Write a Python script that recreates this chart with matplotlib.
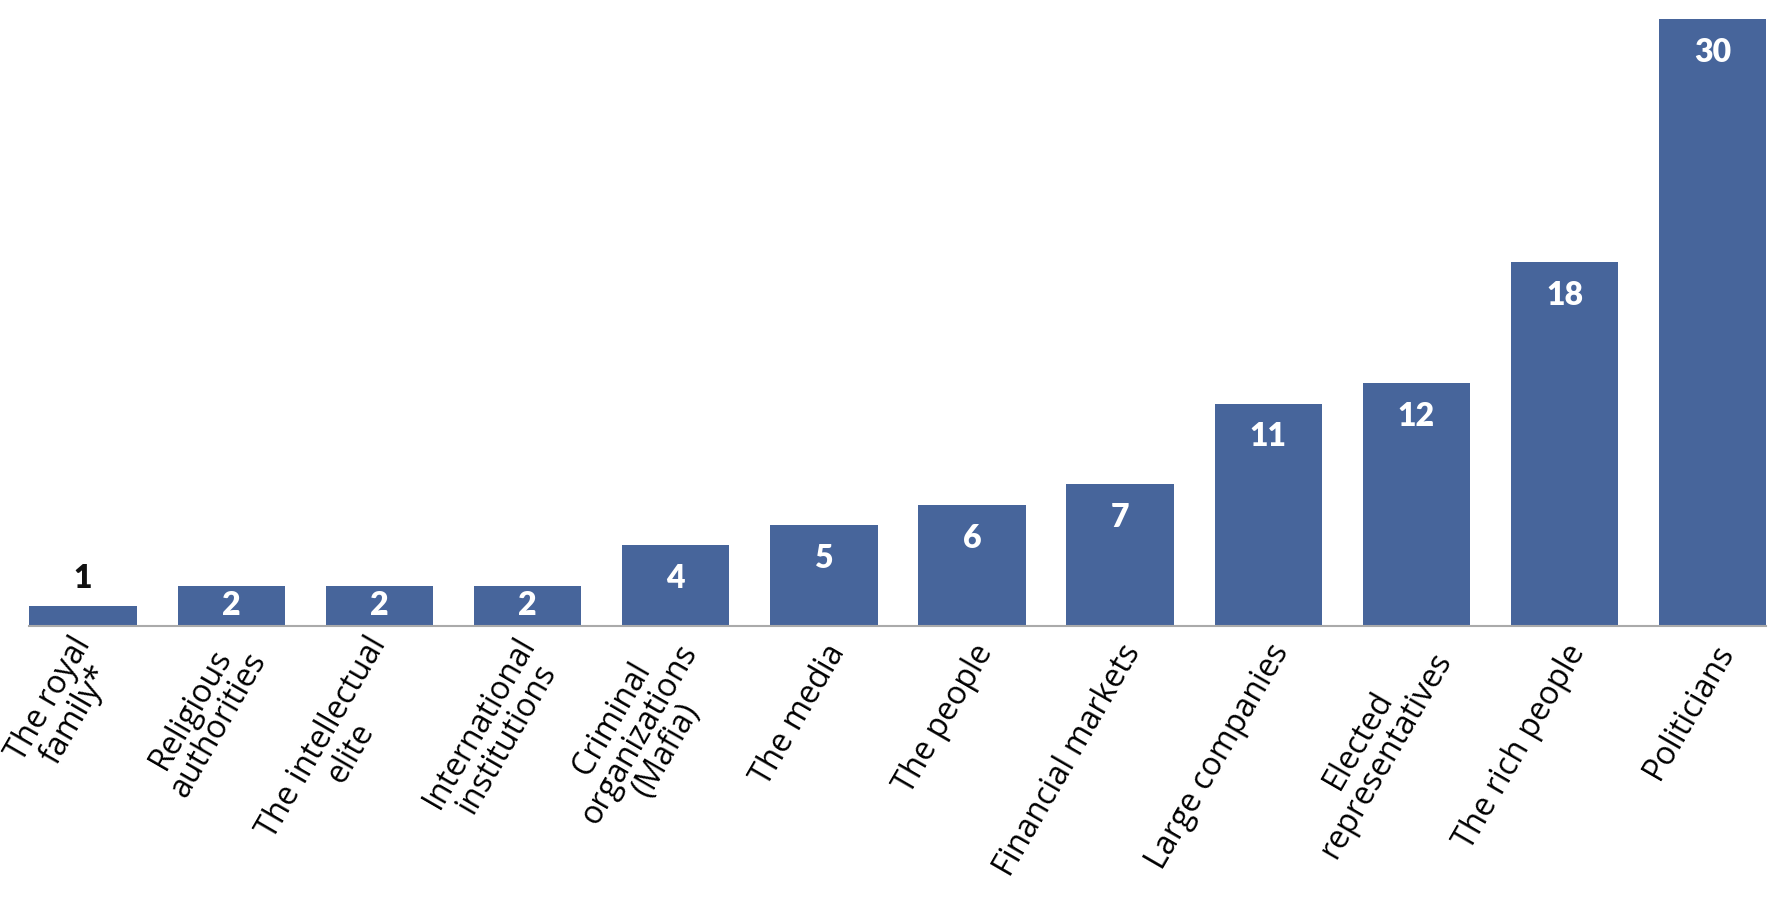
import matplotlib.pyplot as plt
from matplotlib.transforms import ScaledTranslation

categories = ['The royal\nfamily*', 'Religious\nauthorities', 'The intellectual\nelite',
              'International\ninstitutions', 'Criminal\norganizations\n(Mafia)', 'The media',
              'The people', 'Financial markets', 'Large companies',
              'Elected\nrepresentatives', 'The rich people', 'Politicians']
values = [1, 2, 2, 2, 4, 5, 6, 7, 11, 12, 18, 30]

bar_color = '#47659b'
bar_w = 0.725

plt.rcParams['font.family'] = ['Lato', 'DejaVu Sans']

fig = plt.figure(figsize=(17.72, 9.08), dpi=100)
ax = fig.add_axes([0.0166, 0.3105, 0.9802, 0.6683])

x = list(range(len(values)))
ax.bar(x, values, width=bar_w, color=bar_color, zorder=2)
ax.set_xlim(-bar_w / 2, len(values) - 1 + bar_w / 2)
ax.set_ylim(0, 30)

for i, v in enumerate(values):
    if v < 2:
        ax.annotate(str(v), (i, v), xytext=(0, 20), textcoords='offset points',
                    ha='center', va='center', fontsize=23, fontweight='heavy', color='#111111')
    elif v < 3:
        ax.text(i, v / 2, str(v), ha='center', va='center', fontsize=23,
                fontweight='heavy', color='white')
    else:
        ax.annotate(str(v), (i, v), xytext=(0, -24), textcoords='offset points',
                    ha='center', va='center', fontsize=23, fontweight='heavy', color='white')

for s in ['top', 'right', 'left']:
    ax.spines[s].set_visible(False)
ax.spines['bottom'].set_color('#aaaaaa')
ax.spines['bottom'].set_linewidth(1.5)
ax.set_yticks([])
ax.set_xticks(x)
ax.set_xticklabels(categories, rotation=60, ha='right', va='center',
                   rotation_mode='anchor', multialignment='center',
                   fontsize=23, family=['Open Sans', 'DejaVu Sans'], linespacing=0.95)
ax.tick_params(axis='x', length=0, pad=15)
off = ScaledTranslation(10 / 72, 0, fig.dpi_scale_trans)
for lab in ax.get_xticklabels():
    lab.set_transform(lab.get_transform() + off)

fig.savefig('out.png', dpi=100)
